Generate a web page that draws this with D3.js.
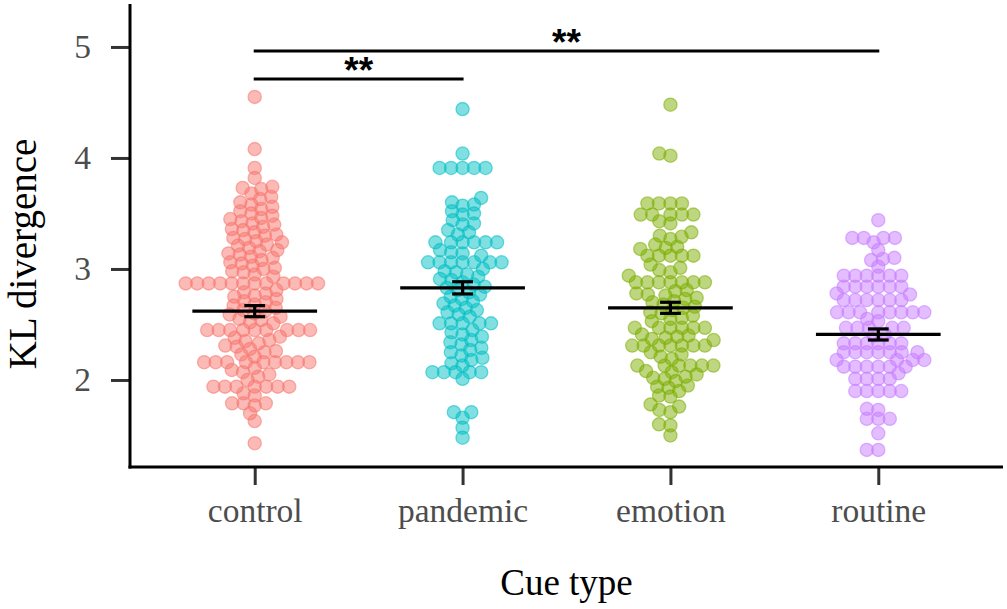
<!DOCTYPE html>
<html>
<head>
<meta charset="utf-8">
<script src="https://cdn.jsdelivr.net/npm/d3@7"></script>
<style>
  html, body { margin: 0; padding: 0; background: #ffffff; }
  svg { display: block; }
</style>
</head>
<body>
<svg id="chart" width="1007" height="609"></svg>
<script>
// ---------------- data ----------------
const categories = ["control", "pandemic", "emotion", "routine"];

const controlValues = [
  4.55, 4.08, 3.91, 3.82,
  3.74, 3.73, 3.72,
  3.68, 3.65, 3.63, 3.60, 3.58, 3.56, 3.54, 3.52, 3.50,
  3.48, 3.46, 3.45, 3.43, 3.41, 3.40, 3.38, 3.36, 3.35, 3.33, 3.31, 3.30,
  3.28, 3.27, 3.25, 3.24, 3.22, 3.21, 3.19, 3.17, 3.16, 3.14, 3.13, 3.11,
  3.10, 3.08, 3.06, 3.05, 3.03, 3.01, 3.00, 2.98, 2.97, 2.95, 2.93,
  2.87, 2.87, 2.87, 2.87, 2.87, 2.87, 2.87, 2.87, 2.87, 2.87, 2.87, 2.87,
  2.81, 2.79, 2.78, 2.76, 2.75, 2.73, 2.71, 2.70, 2.68, 2.67,
  2.65, 2.63, 2.62, 2.60, 2.59, 2.57, 2.55, 2.54, 2.52, 2.51,
  2.45, 2.45, 2.45, 2.45, 2.45, 2.45, 2.45, 2.45, 2.45,
  2.39, 2.38, 2.36, 2.35, 2.33, 2.31, 2.30, 2.28, 2.26, 2.25, 2.23, 2.21,
  2.16, 2.16, 2.16, 2.16, 2.16, 2.16, 2.16, 2.16, 2.16,
  2.11, 2.09, 2.07, 2.05, 2.03, 2.00,
  1.94, 1.94, 1.94, 1.94, 1.94, 1.94, 1.94,
  1.88, 1.86, 1.79, 1.79, 1.79, 1.77,
  1.70, 1.63, 1.43
];

const pandemicValues = [
  4.44, 4.04,
  3.91, 3.91, 3.91, 3.91, 3.91,
  3.64, 3.60, 3.58, 3.57, 3.52, 3.50, 3.49, 3.44, 3.41, 3.40, 3.35, 3.33, 3.31,
  3.24, 3.24, 3.24, 3.24, 3.24, 3.24,
  3.17, 3.15, 3.14, 3.12,
  3.06, 3.06, 3.06, 3.06, 3.06, 3.06, 3.06,
  3.00, 2.98, 2.97, 2.95, 2.93, 2.91, 2.90, 2.88, 2.86, 2.84, 2.83, 2.81,
  2.79, 2.77, 2.75, 2.73, 2.71, 2.69, 2.67, 2.65, 2.63, 2.61, 2.59, 2.57,
  2.51, 2.51, 2.51, 2.51, 2.51,
  2.45, 2.43, 2.41, 2.39, 2.36, 2.34, 2.32, 2.29,
  2.27, 2.25, 2.22, 2.20, 2.18, 2.15, 2.13,
  2.07, 2.07, 2.07, 2.07, 2.07,
  2.01,
  1.71, 1.71, 1.66, 1.57, 1.48
];

const emotionValues = [
  4.48, 4.04, 4.02,
  3.59, 3.59, 3.59, 3.59,
  3.49, 3.49, 3.49, 3.49, 3.49,
  3.43, 3.41,
  3.33, 3.30, 3.29, 3.27,
  3.22, 3.20, 3.19, 3.18,
  3.12, 3.12, 3.12, 3.12, 3.12,
  3.04, 3.01, 2.99, 2.97, 2.94,
  2.88, 2.88, 2.88, 2.88, 2.88, 2.88, 2.88,
  2.81, 2.80, 2.78, 2.77, 2.76, 2.74, 2.73, 2.71, 2.70, 2.68,
  2.66, 2.65, 2.63, 2.61, 2.60, 2.58, 2.56, 2.55, 2.53,
  2.47, 2.47, 2.47, 2.47, 2.47, 2.47,
  2.41, 2.40, 2.39, 2.38, 2.37, 2.36,
  2.31, 2.31, 2.31, 2.31, 2.31, 2.31, 2.31,
  2.25, 2.23, 2.21, 2.19,
  2.13, 2.13, 2.13, 2.13, 2.13, 2.13,
  2.08, 2.07, 2.05, 2.03, 2.02, 2.01, 1.99,
  1.95, 1.94, 1.93, 1.90,
  1.86, 1.85, 1.78, 1.76, 1.73, 1.71,
  1.60, 1.59, 1.50
];

const routineValues = [
  3.44,
  3.28, 3.28, 3.28, 3.28, 3.24,
  3.17, 3.10, 3.09, 3.08, 3.02,
  2.94, 2.94, 2.94, 2.94, 2.94, 2.94,
  2.84, 2.84, 2.84, 2.84, 2.84, 2.84,
  2.78, 2.77,
  2.72, 2.72, 2.72, 2.72, 2.72, 2.72,
  2.61, 2.61, 2.61, 2.61, 2.61, 2.61, 2.61, 2.61,
  2.55, 2.53,
  2.47, 2.47, 2.47, 2.47, 2.47,
  2.41, 2.40,
  2.33, 2.33, 2.33, 2.33, 2.33, 2.33,
  2.25, 2.25, 2.25, 2.25, 2.25, 2.25, 2.25,
  2.18, 2.18, 2.18, 2.18,
  2.12, 2.12, 2.12, 2.12, 2.12, 2.12,
  2.06,
  2.01, 2.01, 2.01, 2.01,
  1.90, 1.90, 1.90, 1.90, 1.90,
  1.74, 1.73,
  1.65, 1.65, 1.65,
  1.52, 1.37, 1.37
];

const groupValues = [controlValues, pandemicValues, emotionValues, routineValues];
const groupColors = ["#F8766D", "#00BFC4", "#7CAE00", "#C77CFF"];

const meanValues = [2.62, 2.83, 2.65, 2.41];
const seValues = [0.05, 0.055, 0.05, 0.05];

const yTicks = [2, 3, 4, 5];
const yDomain = [1.216, 5.387];

const comparisonPairs = [["control", "pandemic"], ["control", "routine"]];
const comparisonLabels = ["**", "**"];
const comparisonLevels = [4.712, 4.964];

const xTitle = "Cue type";
const yTitle = "KL divergence";

// ---------------- layout ----------------
const svg = d3.select("#chart");
const panel = { left: 130, right: 1003, top: 4, bottom: 467 };

const x = d3.scalePoint().domain(categories).range([panel.left, panel.right]).padding(0.6);
const y = d3.scaleLinear().domain(yDomain).range([panel.bottom, panel.top]);
const step = x.step();

const serif = "'Liberation Serif', 'Times New Roman', serif";

// beeswarm offsets: elliptical collision (wider horizontally), placed in ascending value order
function swarm(pys, dxMin, dyMin) {
  const order = d3.range(pys.length).sort((a, b) => pys[b] - pys[a]);
  const placed = [];
  const xs = new Array(pys.length);
  const hit = (p, c, py) => {
    const ex = (p.x - c) / dxMin, ey = (p.y - py) / dyMin;
    return ex * ex + ey * ey < 1 - 1e-6;
  };
  for (const i of order) {
    const py = pys[i];
    const near = placed.filter(p => Math.abs(p.y - py) < dyMin);
    const cands = [0];
    near.forEach(p => {
      const t = (p.y - py) / dyMin;
      const dx = dxMin * Math.sqrt(Math.max(0, 1 - t * t));
      cands.push(p.x + dx, p.x - dx);
    });
    cands.sort((a, b) => Math.abs(a) - Math.abs(b) || a - b);
    for (const c of cands) {
      if (!near.some(p => hit(p, c, py))) { xs[i] = c; placed.push({ x: c, y: py }); break; }
    }
  }
  return xs;
}

// points
const pointsG = svg.append("g");
categories.forEach((cat, gi) => {
  const vals = groupValues[gi];
  const pys = vals.map(v => y(v));
  const offs = swarm(pys, 11.5, 8.5);
  pointsG.append("g").selectAll("circle")
    .data(vals.map((v, i) => ({ v, off: offs[i] })))
    .join("circle")
    .attr("cx", d => x(cat) + d.off)
    .attr("cy", d => y(d.v))
    .attr("r", 6.6)
    .attr("fill", groupColors[gi])
    .attr("fill-opacity", 0.5)
    .attr("stroke", groupColors[gi])
    .attr("stroke-opacity", 0.55)
    .attr("stroke-width", 1.3);
});

// mean lines and error bars
const statG = svg.append("g").attr("stroke", "#000").attr("stroke-width", 3.2).attr("fill", "none");
categories.forEach((cat, gi) => {
  const cx = x(cat);
  const m = meanValues[gi], se = seValues[gi];
  const hw = step * 0.3, cw = step * 0.05;
  statG.append("line").attr("x1", cx - hw).attr("x2", cx + hw).attr("y1", y(m)).attr("y2", y(m));
  statG.append("line").attr("x1", cx).attr("x2", cx).attr("y1", y(m - se)).attr("y2", y(m + se));
  statG.append("line").attr("x1", cx - cw).attr("x2", cx + cw).attr("y1", y(m - se)).attr("y2", y(m - se));
  statG.append("line").attr("x1", cx - cw).attr("x2", cx + cw).attr("y1", y(m + se)).attr("y2", y(m + se));
});

// significance brackets
comparisonPairs.forEach((pair, i) => {
  const x1 = x(pair[0]), x2 = x(pair[1]), yy = y(comparisonLevels[i]);
  svg.append("line").attr("x1", x1 - 1).attr("x2", x2 + 1).attr("y1", yy).attr("y2", yy)
    .attr("stroke", "#000").attr("stroke-width", 3);
  svg.append("text").attr("x", (x1 + x2) / 2).attr("y", yy + 4)
    .attr("text-anchor", "middle")
    .attr("font-family", "'Liberation Sans', Arial, sans-serif")
    .attr("font-size", 37)
    .attr("font-weight", "bold")
    .attr("fill", "#000")
    .text(comparisonLabels[i]);
});

// axes
const yAxis = svg.append("g").attr("transform", `translate(${panel.left},0)`)
  .call(d3.axisLeft(y).tickValues(yTicks).tickSize(19).tickPadding(20).tickFormat(d3.format("d")));
yAxis.select(".domain").remove();
yAxis.selectAll(".tick line").attr("stroke", "#333").attr("stroke-width", 3);
yAxis.selectAll(".tick text").attr("font-family", serif).attr("font-size", 33.5).attr("fill", "#4d4d4d");

const xAxis = svg.append("g").attr("transform", `translate(0,${panel.bottom})`)
  .call(d3.axisBottom(x).tickSize(18).tickPadding(13));
xAxis.select(".domain").remove();
xAxis.selectAll(".tick line").attr("stroke", "#333").attr("stroke-width", 3);
xAxis.selectAll(".tick text").attr("font-family", serif).attr("font-size", 33.5).attr("fill", "#4d4d4d");

// axis lines
svg.append("line").attr("x1", panel.left).attr("x2", panel.left).attr("y1", panel.top).attr("y2", panel.bottom + 1.5)
  .attr("stroke", "#000").attr("stroke-width", 3);
svg.append("line").attr("x1", panel.left - 1.5).attr("x2", panel.right).attr("y1", panel.bottom).attr("y2", panel.bottom)
  .attr("stroke", "#000").attr("stroke-width", 3);

// titles
svg.append("text").attr("x", (panel.left + panel.right) / 2).attr("y", 595)
  .attr("text-anchor", "middle").attr("font-family", serif).attr("font-size", 37).attr("fill", "#000")
  .text(xTitle);
svg.append("text").attr("transform", "translate(36,254) rotate(-90)")
  .attr("text-anchor", "middle").attr("font-family", serif).attr("font-size", 39).attr("fill", "#000")
  .text(yTitle);
</script>
</body>
</html>
